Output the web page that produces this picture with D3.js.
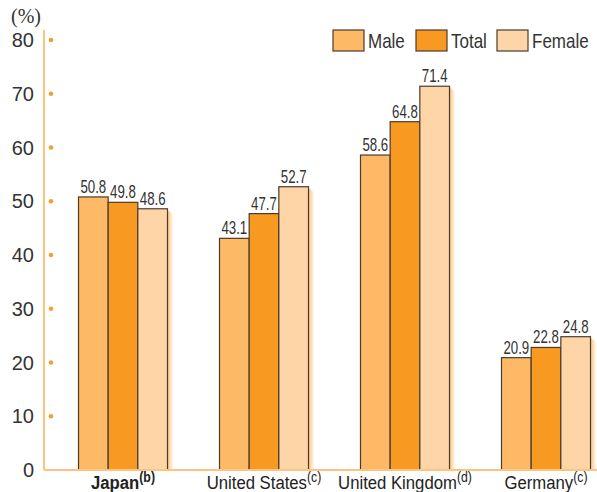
<!DOCTYPE html>
<html>
<head>
<meta charset="utf-8">
<script src="https://cdn.jsdelivr.net/npm/d3@7"></script>
<style>
  body { margin: 0; background: #fff; }
  svg { display: block; }
  text { font-family: "Liberation Sans", Arial, sans-serif; }
  .tick-label { font-size: 20px; fill: #333; }
  .val { font-size: 19px; fill: #333; }
  .cat { font-size: 19px; fill: #222; }
  .legend { font-size: 20px; fill: #333; }
</style>
</head>
<body>
<svg id="chart" width="597" height="492"></svg>
<script>
  const countries = ["Japan", "United States", "United Kingdom", "Germany"];
  const notes = ["(b)", "(c)", "(d)", "(c)"];
  const seriesNames = ["Male", "Total", "Female"];
  const male = [50.8, 43.1, 58.6, 20.9];
  const total = [49.8, 47.7, 64.8, 22.8];
  const female = [48.6, 52.7, 71.4, 24.8];
  const yTicks = [0, 10, 20, 30, 40, 50, 60, 70, 80];

  const COLORS = { Male: "#FDB966", Total: "#F89A22", Female: "#FED5A6" };
  const values = { Male: male, Total: total, Female: female };
  const NARROW = 0.7; // the original uses a condensed face

  const svg = d3.select("#chart");

  const y = d3.scaleLinear().domain([0, 80]).range([470, 40]);
  const x0 = d3.scalePoint().domain(countries).range([123, 546]);
  const x1 = d3.scaleBand().domain(seriesNames).range([-44.5, 44.5]);

  // shadow gradient
  const defs = svg.append("defs");
  const grad = defs.append("linearGradient").attr("id", "shade");
  grad.append("stop").attr("offset", "0%").attr("stop-color", "#FDC27A");
  grad.append("stop").attr("offset", "100%").attr("stop-color", "#fff");

  // y axis line
  svg.append("line")
    .attr("x1", 44).attr("x2", 44)
    .attr("y1", 30).attr("y2", 470)
    .attr("stroke", "#FDC480").attr("stroke-width", 2);

  // tick labels and dots
  svg.selectAll(".tick-label").data(yTicks).enter()
    .append("text")
    .attr("class", "tick-label")
    .attr("x", 34)
    .attr("y", (d) => y(d) + 7)
    .attr("text-anchor", "end")
    .text((d) => d);

  svg.selectAll(".dot").data(yTicks.filter((d) => d > 0)).enter()
    .append("circle")
    .attr("cx", 51)
    .attr("cy", (d) => y(d))
    .attr("r", 2.3)
    .attr("fill", "#F0A035");

  svg.append("text")
    .attr("x", 11).attr("y", 23)
    .style("font-family", "'Liberation Serif', serif")
    .style("font-size", "20px")
    .style("fill", "#333")
    .text("(%)");

  // groups
  const groups = svg.selectAll(".group").data(countries).enter()
    .append("g")
    .attr("transform", (d) => `translate(${x0(d)},0)`);

  // shadow next to the last bar
  groups.append("path")
    .attr("d", (d, i) => {
      const xs = x1("Female") + x1.bandwidth();
      const top = y(female[i]);
      return `M${xs},${top + 1} L${xs + 6},${top + 6} L${xs + 6},${y(0)} L${xs},${y(0)} Z`;
    })
    .attr("fill", "url(#shade)");

  seriesNames.forEach((s) => {
    groups.append("rect")
      .attr("x", x1(s))
      .attr("y", (d, i) => y(values[s][i]))
      .attr("width", x1.bandwidth())
      .attr("height", (d, i) => y(0) - y(values[s][i]))
      .attr("fill", COLORS[s])
      .attr("stroke", "#4a3b2c")
      .attr("stroke-width", 1.2);

    groups.append("text")
      .attr("class", "val")
      .attr("transform", (d, i) =>
        `translate(${x1(s) + x1.bandwidth() / 2},${y(values[s][i]) - 4}) scale(${NARROW},1)`)
      .attr("text-anchor", "middle")
      .text((d, i) => values[s][i].toFixed(1));
  });

  // baseline
  svg.append("line")
    .attr("x1", 44).attr("x2", 597)
    .attr("y1", 470).attr("y2", 470)
    .attr("stroke", "#FDC480").attr("stroke-width", 2);

  // category labels
  const cat = groups.append("text")
    .attr("class", "cat")
    .attr("transform", "translate(0,489) scale(0.88,1)")
    .attr("text-anchor", "middle")
    .style("font-weight", (d) => d === "Japan" ? "bold" : null);
  cat.append("tspan").text((d) => d);
  cat.append("tspan")
    .attr("dy", -7)
    .style("font-size", "14px")
    .text((d, i) => notes[i]);

  // legend
  const legendX = [333, 416, 497];
  const leg = svg.selectAll(".leg").data(seriesNames).enter()
    .append("g")
    .attr("transform", (d, i) => `translate(${legendX[i]},30)`);
  leg.append("rect")
    .attr("width", 31).attr("height", 21)
    .attr("fill", (d) => COLORS[d])
    .attr("stroke", "#4a3b2c").attr("stroke-width", 1.2);
  leg.append("text")
    .attr("class", "legend")
    .attr("transform", "translate(35,18) scale(0.85,1)")
    .text((d) => d);
</script>
</body>
</html>
